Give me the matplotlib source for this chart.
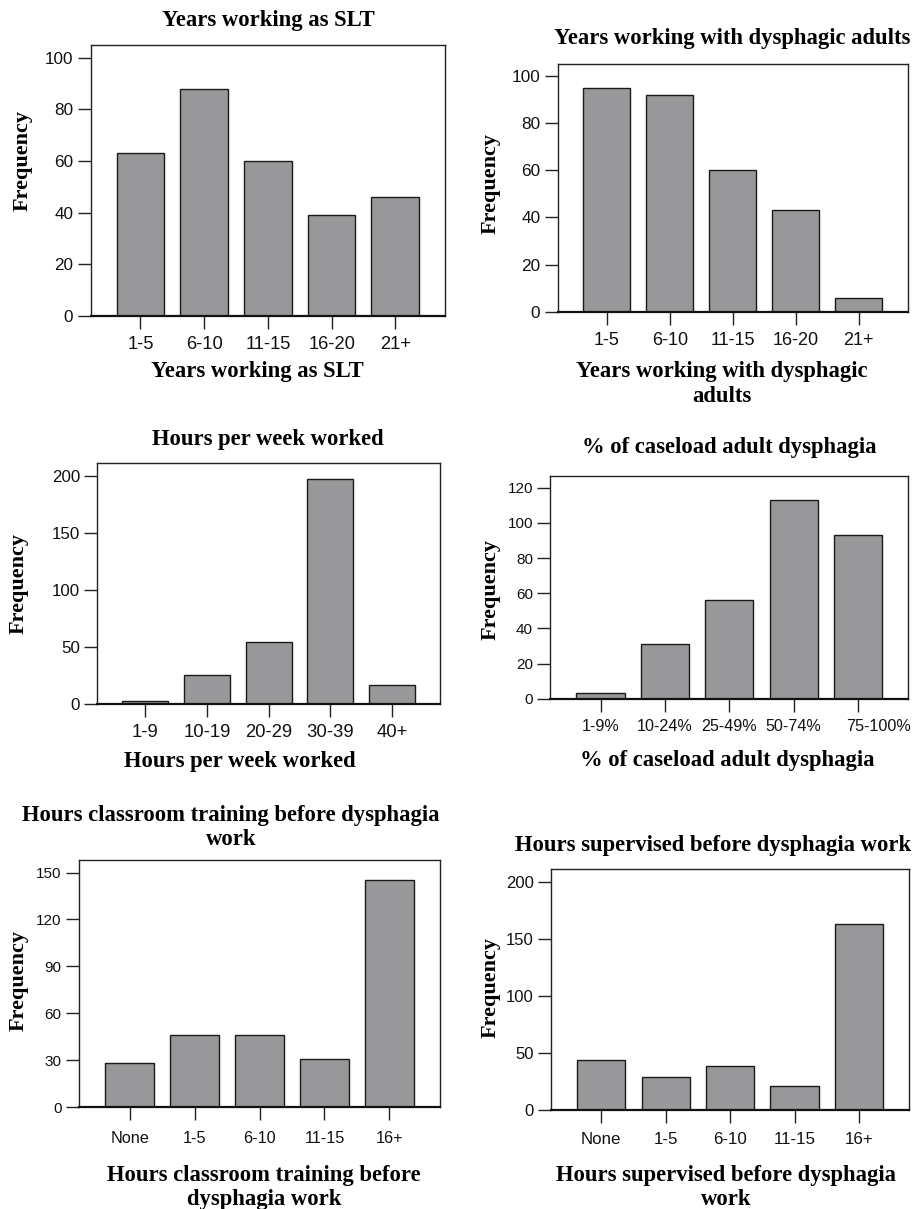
import matplotlib
matplotlib.use('Agg')
import matplotlib.pyplot as plt
import matplotlib.transforms as mtransforms
import numpy as np

# data
slt_years = ['1-5', '6-10', '11-15', '16-20', '21+']
slt_freq = [63, 88, 60, 39, 46]

dys_years = ['1-5', '6-10', '11-15', '16-20', '21+']
dys_freq = [95, 92, 60, 43, 6]

week_hours = ['1-9', '10-19', '20-29', '30-39', '40+']
week_freq = [3, 25, 54, 197, 17]

caseload = ['1-9%', '10-24%', '25-49%', '50-74%', '75-100%']
caseload_freq = [3, 31, 56, 113, 93]

train_hours = ['None', '1-5', '6-10', '11-15', '16+']
classroom_freq = [28, 46, 46, 31, 145]
supervised_freq = [44, 29, 39, 21, 163]

W, H = 913, 1209
SERIF = 'Liberation Serif'
SANS = 'Liberation Sans'
BAR = '#98989a'

# layout in pixels: axes box (left, top, right, bottom), y range, title/xlabel/ylabel anchors
panels = [
    dict(cats=slt_years, vals=slt_freq, box=(90.7, 45, 445, 315.7), ymax=105, ystep=20, ytop=100,
         title='Years working as SLT', tpos=(268, 26),
         xlabel='Years working as SLT', xpos=(257.5, 376.5),
         ypos=(32.7, 160.7), xs=13.2, ys=12.3, xpad=5.5),
    dict(cats=dys_years, vals=dys_freq, box=(557.7, 64.3, 907.7, 311.7), ymax=105, ystep=20, ytop=100,
         title='Years working with dysphagic adults', tpos=(732.5, 44.3),
         xlabel='Years working with dysphagic\nadults', xpos=(722, 401.7),
         ypos=(501, 184), xs=13, ys=12.4, xpad=5.5),
    dict(cats=week_hours, vals=week_freq, box=(97.3, 463.3, 440, 704), ymax=211, ystep=50, ytop=200,
         title='Hours per week worked', tpos=(268.3, 445),
         xlabel='Hours per week worked', xpos=(240, 766.7),
         ypos=(28.3, 584), xs=13.3, ys=12.2, xpad=5.5),
    dict(cats=caseload, vals=caseload_freq, box=(550.3, 476.3, 908.3, 698.7), ymax=126.5, ystep=20, ytop=120,
         title='% of caseload adult dysphagia', tpos=(729.3, 452.7),
         xlabel='% of caseload adult dysphagia', xpos=(726.8, 765.7),
         ypos=(501, 589), xs=11.6, ys=11, xpad=5.5),
    dict(cats=train_hours, vals=classroom_freq, box=(79, 860, 440, 1107.3), ymax=158, ystep=30, ytop=150,
         title='Hours classroom training before dysphagia\nwork', tpos=(231, 845),
         xlabel='Hours classroom training before\ndysphagia work', xpos=(264, 1205),
         ypos=(28.3, 980.8), xs=11.7, ys=11, xpad=8),
    dict(cats=train_hours, vals=supervised_freq, box=(551, 869.3, 909.3, 1110), ymax=211, ystep=50, ytop=200,
         title='Hours supervised before dysphagia work', tpos=(713.5, 850.7),
         xlabel='Hours supervised before dysphagia\nwork', xpos=(726, 1205),
         ypos=(501, 987.5), xs=12.2, ys=12, xpad=6.5),
]

fig = plt.figure(figsize=(W / 100, H / 100), dpi=100)

for i, p in enumerate(panels):
    l, t, r, b = p['box']
    aw, ah = r - l, b - t
    ax = fig.add_axes([l / W, 1 - b / H, aw / W, ah / H])
    x = np.arange(len(p['cats']))
    ax.bar(x, p['vals'], width=0.75, color=BAR, edgecolor='#1a1a1a', linewidth=1.0, zorder=2)
    ax.set_xlim(-0.78, len(x) - 0.22)
    ax.set_ylim(0, p['ymax'])
    ax.set_yticks(np.arange(0, p['ytop'] + 1, p['ystep']))
    ax.set_xticks(x)
    ax.set_xticklabels(p['cats'], fontfamily=SANS)
    for lab in ax.get_yticklabels():
        lab.set_fontfamily(SANS)
    ax.tick_params(axis='both', direction='out', length=9.2, width=1.0, color='#222222',
                   labelcolor='#111111')
    ax.tick_params(axis='y', pad=3.3, labelsize=p['ys'])
    ax.tick_params(axis='x', pad=p['xpad'], labelsize=p['xs'])
    for s in ['top', 'left', 'right']:
        ax.spines[s].set_linewidth(1.0)
        ax.spines[s].set_color('#222222')
    ax.spines['bottom'].set_linewidth(1.6)
    ax.spines['bottom'].set_color('#111111')

    ax.set_title(p['title'], fontfamily=SERIF, fontweight='bold', fontsize=16.3,
                 x=(p['tpos'][0] - l) / aw, y=(b - p['tpos'][1]) / ah, pad=0)
    ax.set_xlabel(p['xlabel'], fontfamily=SERIF, fontweight='bold', fontsize=16.3)
    ax.xaxis.set_label_coords((p['xpos'][0] - l) / aw, (b - p['xpos'][1]) / ah)
    ax.xaxis.label.set_verticalalignment('baseline')
    ax.set_ylabel('Frequency', fontfamily=SERIF, fontweight='bold', fontsize=16)
    ax.yaxis.set_label_coords((p['ypos'][0] - l) / aw, (b - p['ypos'][1]) / ah)

    if i == 3:
        # last caseload label sits right of its tick in the original
        last = ax.get_xticklabels()[-1]
        last.set_transform(last.get_transform() + mtransforms.ScaledTranslation(20 / 100, 0, fig.dpi_scale_trans))

fig.savefig('out.png', dpi=100)
